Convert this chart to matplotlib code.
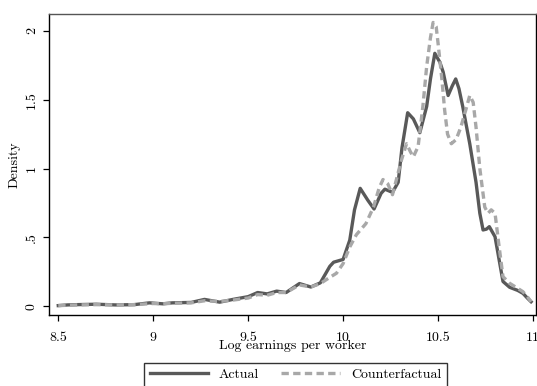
import matplotlib
matplotlib.use("Agg")
import matplotlib.pyplot as plt

# ---------------------------------------------------------------------
# Data (log earnings per worker vs density)
# ---------------------------------------------------------------------
actual_x = [8.50, 8.55, 8.60, 8.70, 8.80, 8.90, 8.98, 9.05, 9.10, 9.20,
            9.27, 9.35, 9.42, 9.50, 9.55, 9.60, 9.65, 9.70, 9.77, 9.83,
            9.88, 9.93, 9.95, 10.00, 10.035, 10.06, 10.09, 10.13, 10.163,
            10.20, 10.22, 10.26, 10.29, 10.31, 10.34, 10.37, 10.404, 10.44,
            10.46, 10.483, 10.51, 10.527, 10.553, 10.575, 10.593, 10.61,
            10.63, 10.667, 10.70, 10.72, 10.737, 10.755, 10.77, 10.80,
            10.82, 10.842, 10.877, 10.92, 10.947, 10.97, 10.99]
actual_y = [0.005, 0.010, 0.012, 0.015, 0.010, 0.012, 0.025, 0.018, 0.025, 0.028,
            0.050, 0.030, 0.050, 0.070, 0.100, 0.090, 0.110, 0.100, 0.165, 0.140,
            0.170, 0.290, 0.320, 0.340, 0.480, 0.700, 0.856, 0.770, 0.706,
            0.820, 0.850, 0.827, 0.900, 1.150, 1.405, 1.360, 1.260, 1.450,
            1.650, 1.836, 1.770, 1.700, 1.530, 1.600, 1.650, 1.580,
            1.450, 1.180, 0.900, 0.675, 0.554, 0.560, 0.578, 0.505,
            0.350, 0.180, 0.138, 0.115, 0.094, 0.060, 0.033]

counter_x = [8.50, 8.60, 8.70, 8.80, 8.90, 9.00, 9.05, 9.10, 9.20, 9.27,
             9.35, 9.42, 9.50, 9.55, 9.60, 9.65, 9.70, 9.77, 9.83, 9.88,
             9.93, 9.965, 10.00, 10.035, 10.07, 10.12, 10.16, 10.19, 10.21,
             10.235, 10.26, 10.307, 10.334, 10.355, 10.37, 10.395, 10.42,
             10.44, 10.46, 10.474, 10.49, 10.50, 10.52, 10.535, 10.55, 10.57,
             10.595, 10.62, 10.645, 10.667, 10.685, 10.70, 10.72, 10.746,
             10.763, 10.78, 10.80, 10.82, 10.842, 10.877, 10.92, 10.947,
             10.97, 10.99]
counter_y = [0.005, 0.010, 0.012, 0.010, 0.012, 0.020, 0.018, 0.022, 0.025, 0.040,
             0.035, 0.045, 0.060, 0.085, 0.080, 0.100, 0.100, 0.155, 0.140, 0.165,
             0.210, 0.240, 0.310, 0.430, 0.520, 0.600, 0.720, 0.860, 0.920,
             0.890, 0.810, 1.060, 1.180, 1.120, 1.085, 1.160, 1.450,
             1.740, 1.950, 2.060, 2.030, 1.910, 1.650, 1.420, 1.250, 1.180,
             1.210, 1.300, 1.420, 1.530, 1.480, 1.300, 1.000, 0.720,
             0.675, 0.700, 0.675, 0.450, 0.215, 0.167, 0.130, 0.106,
             0.070, 0.033]

x_ticks = [8.5, 9, 9.5, 10, 10.5, 11]
x_tick_labels = ["8.5", "9", "9.5", "10", "10.5", "11"]
y_ticks = [0, 0.5, 1, 1.5, 2]
y_tick_labels = ["0", ".5", "1", "1.5", "2"]

# ---------------------------------------------------------------------
# Styling
# ---------------------------------------------------------------------
plt.rcParams["font.family"] = ["cmr10", "DejaVu Serif"]
plt.rcParams["axes.formatter.use_mathtext"] = True
plt.rcParams["font.size"] = 10

ACTUAL_COLOR = "#595959"
COUNTER_COLOR = "#a8a8a8"

fig = plt.figure(figsize=(5.37, 3.86), dpi=100)
ax = fig.add_axes([0.0912, 0.184, 0.907, 0.781])

ax.plot(actual_x, actual_y, color=ACTUAL_COLOR, linewidth=2.4,
        solid_joinstyle="round", label="Actual")
ax.plot(counter_x, counter_y, color=COUNTER_COLOR, linewidth=2.4,
        linestyle=(0, (2.2, 1.3)), label="Counterfactual")

ax.set_xlim(8.451, 11.016)
ax.set_ylim(-0.063, 2.125)

ax.set_xticks(x_ticks)
ax.set_xticklabels(x_tick_labels)
ax.set_yticks(y_ticks)
ax.set_yticklabels(y_tick_labels, rotation=90, va="center")
ax.tick_params(axis="x", direction="out", length=4, width=0.9, pad=8)
ax.tick_params(axis="y", direction="out", length=4, width=0.9, pad=4)

for spine in ax.spines.values():
    spine.set_linewidth(1.0)
    spine.set_color("black")
ax.spines["top"].set_color("#555555")

ax.set_xlabel("Log earnings per worker", labelpad=-2.5)
ax.set_ylabel("Density", labelpad=4)

legend = fig.legend(loc="upper center", bbox_to_anchor=(0.55, 0.06), ncol=2,
                    frameon=True, fancybox=False, edgecolor="black",
                    borderaxespad=0, handlelength=4.2, columnspacing=1.6,
                    borderpad=0.4)
legend.get_frame().set_linewidth(1.0)

fig.savefig("out.png", dpi=100)
